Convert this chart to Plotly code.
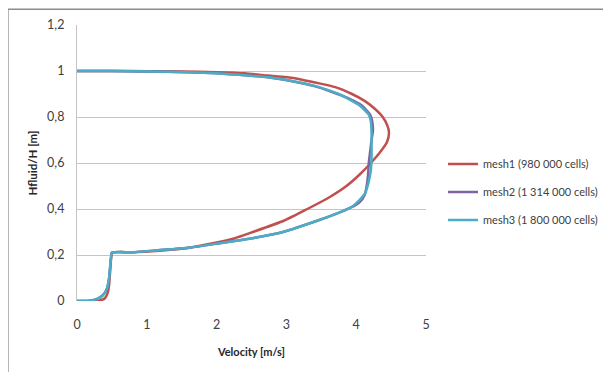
import plotly.graph_objects as go

# Data (velocity [m/s], Hfluid/H [m])
mesh1_velocity = [0.0, 0.2, 0.33, 0.40, 0.44, 0.46, 0.475, 0.49, 0.50, 0.8, 1.23, 1.6, 1.93, 2.25, 2.52, 2.97, 3.30, 3.61, 3.86, 4.05, 4.21, 4.35, 4.44, 4.47, 4.45, 4.38, 4.25, 4.12, 3.94, 3.70, 3.41, 3.10, 2.74, 2.40, 2.0, 1.5, 1.0, 0.5, 0.0]
mesh1_height = [0.0, 0.0, 0.002, 0.012, 0.035, 0.07, 0.13, 0.19, 0.21, 0.212, 0.22, 0.232, 0.25, 0.272, 0.30, 0.35, 0.40, 0.45, 0.50, 0.55, 0.60, 0.65, 0.69, 0.73, 0.76, 0.80, 0.84, 0.87, 0.90, 0.93, 0.95, 0.97, 0.98, 0.99, 0.995, 0.998, 0.999, 1.0, 1.0]

mesh2_velocity = [0.0, 0.15, 0.28, 0.37, 0.43, 0.46, 0.475, 0.49, 0.50, 0.8, 1.12, 1.6, 2.02, 2.55, 2.95, 3.45, 3.80, 3.95, 4.05, 4.12, 4.15, 4.17, 4.18, 4.20, 4.22, 4.24, 4.23, 4.20, 4.08, 3.90, 3.73, 3.45, 3.17, 2.80, 2.45, 2.0, 1.57, 1.0, 0.5, 0.0]
mesh2_height = [0.0, 0.0, 0.008, 0.025, 0.055, 0.10, 0.15, 0.195, 0.21, 0.212, 0.22, 0.232, 0.25, 0.275, 0.30, 0.35, 0.39, 0.41, 0.43, 0.46, 0.50, 0.55, 0.60, 0.65, 0.70, 0.74, 0.78, 0.81, 0.85, 0.88, 0.90, 0.93, 0.95, 0.97, 0.98, 0.99, 0.995, 0.998, 1.0, 1.0]

mesh3_velocity = [0.0, 0.15, 0.28, 0.37, 0.43, 0.46, 0.475, 0.49, 0.50, 0.8, 1.12, 1.6, 2.02, 2.55, 2.95, 3.45, 3.80, 3.94, 4.05, 4.13, 4.18, 4.21, 4.22, 4.22, 4.22, 4.21, 4.18, 4.05, 3.88, 3.75, 3.47, 3.19, 2.82, 2.46, 2.0, 1.57, 1.0, 0.5, 0.0]
mesh3_height = [0.0, 0.0, 0.008, 0.025, 0.055, 0.10, 0.15, 0.195, 0.21, 0.212, 0.22, 0.232, 0.25, 0.275, 0.30, 0.35, 0.39, 0.41, 0.44, 0.47, 0.52, 0.57, 0.62, 0.68, 0.73, 0.78, 0.81, 0.85, 0.88, 0.90, 0.93, 0.95, 0.97, 0.98, 0.99, 0.995, 0.998, 1.0, 1.0]

series_names = ["mesh1 (980 000 cells)", "mesh2 (1 314 000 cells)", "mesh3 (1 800 000 cells)"]
series_colors = ["#C0504D", "#8064A2", "#4BACC6"]

y_tickvals = [0, 0.2, 0.4, 0.6, 0.8, 1.0, 1.2]
y_ticktext = ["0", "0,2", "0,4", "0,6", "0,8", "1", "1,2"]
x_tickvals = [0, 1, 2, 3, 4, 5]
x_ticktext = ["0", "1", "2", "3", "4", "5"]

FONT = "Lato, 'Open Sans', sans-serif"

fig = go.Figure()
for i, (xs, ys, name, color) in enumerate(zip(
    [mesh1_velocity, mesh2_velocity, mesh3_velocity],
    [mesh1_height, mesh2_height, mesh3_height],
    series_names, series_colors,
)):
    fig.add_trace(go.Scatter(
        x=xs, y=ys, name=name, mode="lines", legendgroup=f"g{i}",
        line=dict(color=color, width=2.5, shape="spline", smoothing=0.6),
    ))

# outer chart frame (top and left edges visible)
fig.add_shape(type="line", xref="paper", yref="paper",
              x0=-0.198, x1=1.6, y0=1.057, y1=1.057,
              line=dict(color="#8C8C8C", width=1.5))
fig.add_shape(type="line", xref="paper", yref="paper",
              x0=-0.198, x1=-0.198, y0=1.057, y1=-0.3,
              line=dict(color="#8C8C8C", width=1.5))

fig.update_layout(
    width=611, height=372,
    margin=dict(l=69, r=193, t=17, b=79, autoexpand=False),
    paper_bgcolor="white", plot_bgcolor="white",
    font=dict(family=FONT, size=12.5, color="#404040"),
    showlegend=True,
    legend=dict(
        xref="container", x=0.712, y=0.395, xanchor="left", yanchor="middle",
        font=dict(family=FONT, size=11, color="#404040"),
        tracegroupgap=9, itemwidth=30, borderwidth=0,
        bgcolor="rgba(0,0,0,0)",
    ),
    xaxis=dict(
        range=[0, 5], tickvals=x_tickvals, ticktext=x_ticktext,
        showgrid=False, zeroline=False, showline=False,
        ticks="", ticklabelstandoff=14, automargin=False,
        tickfont=dict(family=FONT, size=12.5, color="#404040"),
        title=dict(text="<b>Velocity [m/s]</b>", standoff=17,
                   font=dict(family=FONT, size=11, color="#262626")),
        fixedrange=True,
    ),
    yaxis=dict(
        range=[0, 1.2], tickvals=y_tickvals, ticktext=y_ticktext,
        showgrid=True, gridcolor="#C4C4C4", gridwidth=1.2,
        zeroline=False, showline=True, linecolor="#C4C4C4", linewidth=1.2,
        ticks="", ticklabelstandoff=9, automargin=False,
        tickfont=dict(family=FONT, size=12.5, color="#404040"),
        title=dict(text="<b>Hfluid/H [m]</b>", standoff=7,
                   font=dict(family=FONT, size=11.5, color="#262626")),
        fixedrange=True,
    ),
)

fig.write_html("out.html")
